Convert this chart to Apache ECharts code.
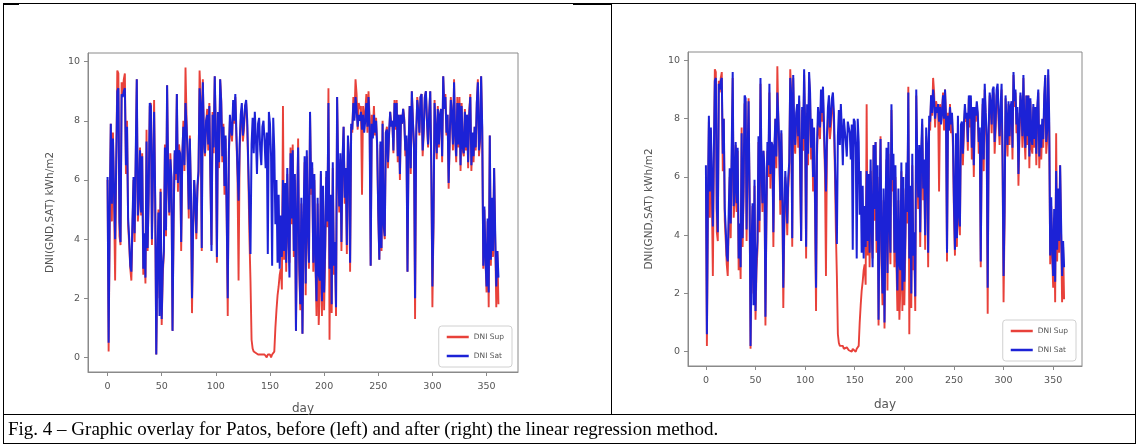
<!DOCTYPE html>
<html>
<head>
<meta charset="utf-8">
<title>Patos DNI overlay</title>
<script src="https://cdn.jsdelivr.net/npm/echarts@6.0.0/dist/echarts.min.js"></script>
<style>
  html, body { margin: 0; padding: 0; background: #fff; }
  #wrap { position: relative; width: 1139px; height: 448px; overflow: hidden; }
  #chart { position: absolute; left: 0; top: 0; width: 1139px; height: 448px; }
  .ln { position: absolute; background: #000; }
  #caption {
    position: absolute; left: 8px; top: 418px; line-height: 22px;
    font-family: "Liberation Serif", "Times New Roman", serif; font-size: 19px;
    color: #000; white-space: nowrap;
  }
</style>
</head>
<body>
<div id="wrap">
  <!-- table borders -->
  <div class="ln" style="left:3px;top:3px;width:1133px;height:1px"></div>
  <div class="ln" style="left:3px;top:3px;width:16px;height:2px"></div>
  <div class="ln" style="left:573px;top:3px;width:38px;height:2px"></div>
  <div class="ln" style="left:3px;top:3px;width:1px;height:441px"></div>
  <div class="ln" style="left:1135px;top:3px;width:1px;height:441px"></div>
  <div class="ln" style="left:611px;top:3px;width:1px;height:411px"></div>
  <div class="ln" style="left:3px;top:414px;width:1133px;height:1px"></div>
  <div class="ln" style="left:3px;top:443px;width:1133px;height:1px"></div>
  <div id="chart"></div>
  <div id="caption">Fig. 4 – Graphic overlay for Patos, before (left) and after (right) the linear regression method.</div>
</div>
<script>
// daily DNI, kWh/m2 (day 0 .. 361)
const dniSup = [
  6.0, 0.2, 4.5, 7.9, 4.6, 7.6, 5.3, 2.6, 6.3, 9.7,
  9.6, 4.1, 3.8, 9.3, 8.9, 9.4, 9.6, 6.2, 8.0, 4.5,
  3.8, 3.0, 2.6, 4.3, 6.0, 3.9, 6.5, 9.4, 4.6, 5.2,
  7.1, 4.8, 6.9, 2.8, 4.0, 2.5, 7.7, 3.6, 5.4, 8.5,
  8.6, 3.8, 6.2, 8.7, 5.2, 0.1, 3.2, 5.0, 2.0, 5.7,
  1.1, 2.8, 3.5, 7.2, 4.1, 9.2, 6.0, 4.8, 6.9, 5.9,
  0.9, 4.5, 6.9, 6.0, 8.9, 5.6, 7.2, 6.8, 3.6, 6.6,
  8.0, 6.3, 9.8, 8.0, 6.6, 4.7, 7.5, 5.4, 1.5, 4.2,
  6.0, 5.1, 4.0, 5.6, 6.2, 9.7, 8.8, 3.6, 9.4, 7.3,
  6.8, 7.9, 8.4, 7.0, 8.6, 5.9, 3.8, 8.3, 6.9, 9.5,
  7.5, 3.2, 8.2, 6.4, 9.4, 8.7, 6.6, 7.9, 5.5, 7.4,
  4.8, 1.4, 6.7, 8.0, 7.6, 7.3, 8.6, 7.9, 8.8, 7.4,
  6.1, 2.6, 7.0, 8.0, 8.4, 7.3, 7.7, 8.5, 8.6, 7.8,
  6.2, 4.1, 2.6, 0.6, 0.3, 0.2, 0.2, 0.15, 0.2, 0.1,
  0.15, 0.1, 0.15, 0.1, 0.05, 0.1, 0.1, 0.0, 0.1, 0.05,
  0.1, 0.0, 0.1, 0.05, 0.2, 1.0, 1.6, 2.1, 2.4, 2.8,
  3.0, 2.3, 8.5, 3.3, 5.8, 2.9, 6.2, 4.0, 3.2, 7.1,
  4.5, 7.2, 3.4, 6.0, 0.9, 4.6, 7.4, 3.0, 1.6, 5.2,
  0.8, 4.4, 6.6, 2.1, 6.8, 4.1, 3.0, 8.3, 5.5, 6.4,
  2.9, 6.0, 3.1, 1.4, 5.2, 1.1, 2.2, 6.2, 1.4, 5.6,
  1.6, 3.5, 6.1, 4.4, 9.1, 0.6, 5.3, 1.5, 6.4, 2.8,
  3.6, 1.4, 8.8, 6.2, 4.9, 6.7, 3.6, 6.5, 7.8, 5.2,
  6.2, 3.5, 7.4, 6.6, 2.9, 7.8, 7.6, 8.8, 8.1, 9.4,
  8.9, 7.7, 8.6, 8.4, 8.5, 5.5, 8.5, 7.9, 8.3, 8.9,
  7.6, 9.0, 8.1, 3.1, 8.2, 7.6, 8.5, 7.5, 8.1, 7.0,
  4.8, 3.3, 7.2, 3.6, 8.0, 4.4, 4.0, 7.6, 7.8, 6.4,
  7.5, 8.3, 7.9, 8.0, 6.9, 8.7, 7.7, 8.7, 6.6, 8.2,
  6.0, 8.2, 7.9, 8.4, 8.1, 6.8, 7.4, 2.9, 7.1, 8.5,
  6.2, 9.0, 8.0, 7.0, 1.3, 7.4, 8.8, 8.4, 7.5, 8.8,
  8.9, 6.8, 7.6, 8.8, 9.0, 7.9, 7.1, 8.2, 9.0, 6.3,
  1.7, 4.4, 8.7, 7.6, 6.7, 8.5, 7.1, 8.2, 8.4, 6.6,
  9.5, 8.4, 8.9, 7.5, 8.2, 5.7, 7.4, 8.8, 8.2, 7.0,
  9.4, 7.4, 6.6, 8.8, 7.1, 8.8, 6.3, 8.6, 7.0, 6.8,
  8.4, 7.0, 8.2, 6.4, 8.3, 8.9, 6.3, 7.5, 6.6, 7.8,
  7.0, 8.6, 9.4, 6.8, 7.3, 9.5, 7.7, 3.0, 5.0, 3.3,
  2.2, 4.6, 1.7, 7.5, 3.1, 5.3, 3.4, 6.4, 4.0, 1.7,
  3.6, 1.8
];

// satellite estimate, before regression (left panel)
const dniSat = [
  6.1, 0.5, 5.0, 7.9, 5.2, 7.4, 5.6, 4.0, 6.6, 9.0,
  9.1, 4.6, 3.9, 8.9, 8.8, 9.0, 9.1, 6.5, 7.8, 4.7,
  4.0, 3.1, 2.9, 4.6, 6.1, 4.2, 6.8, 9.4, 4.8, 5.4,
  7.0, 4.9, 6.8, 3.0, 4.2, 2.7, 7.3, 3.7, 5.6, 8.6,
  8.5, 4.0, 6.4, 8.3, 5.4, 0.1, 3.4, 4.9, 1.4, 5.6,
  1.3, 3.0, 3.6, 7.1, 4.3, 9.2, 6.2, 4.9, 6.7, 6.1,
  0.9, 4.7, 7.0, 6.2, 8.9, 5.9, 7.0, 6.9, 3.9, 6.8,
  7.8, 6.5, 8.6, 7.8, 6.8, 5.0, 7.4, 5.6, 2.0, 4.4,
  6.0, 5.3, 4.2, 5.8, 6.3, 9.1, 8.6, 3.7, 9.3, 7.5,
  6.9, 8.0, 8.2, 7.2, 8.5, 6.1, 3.6, 8.2, 7.1, 9.5,
  7.6, 3.4, 8.3, 6.6, 9.4, 8.6, 6.8, 7.8, 5.8, 7.5,
  5.0, 2.0, 6.9, 8.2, 7.7, 7.5, 8.7, 8.0, 8.9, 7.6,
  6.4, 5.3, 7.2, 8.2, 8.6, 7.5, 7.9, 8.5, 8.7, 8.0,
  6.5, 5.0, 3.5, 7.2, 8.1, 6.9, 8.3, 7.4, 6.2, 7.9,
  8.1, 7.0, 6.5, 7.8, 8.0, 7.3, 6.4, 7.6, 3.5, 8.3,
  7.9, 6.8, 3.1, 8.1, 7.0, 4.5, 6.0, 3.2, 5.5, 3.0,
  4.8, 3.4, 6.0, 3.6, 5.9, 3.2, 6.4, 4.3, 2.7, 6.9,
  4.7, 7.0, 3.6, 6.2, 0.9, 4.8, 7.1, 3.3, 1.8, 5.4,
  0.8, 4.6, 6.8, 2.5, 7.0, 4.3, 3.2, 8.3, 5.7, 6.6,
  3.2, 6.2, 3.4, 1.9, 5.4, 2.8, 2.6, 6.3, 1.9, 5.8,
  2.2, 3.8, 6.3, 4.6, 8.6, 3.0, 5.5, 1.8, 6.6, 3.1,
  3.9, 1.7, 8.8, 6.4, 5.1, 6.9, 3.9, 6.7, 7.8, 5.4,
  6.4, 3.8, 7.5, 6.8, 3.2, 7.9, 7.7, 8.6, 8.0, 8.8,
  8.4, 7.8, 8.2, 8.0, 8.3, 7.7, 8.2, 7.6, 8.0, 8.6,
  7.8, 8.8, 7.8, 3.1, 7.9, 7.4, 8.2, 7.6, 8.0, 7.2,
  4.9, 3.3, 7.3, 3.7, 7.9, 4.5, 4.1, 7.6, 7.7, 6.6,
  7.6, 8.3, 7.8, 8.0, 7.0, 8.6, 7.8, 8.6, 6.8, 8.2,
  6.2, 8.2, 7.9, 8.4, 8.0, 7.0, 7.5, 2.9, 7.2, 8.5,
  6.4, 9.0, 8.0, 7.2, 2.0, 7.5, 8.7, 8.3, 7.6, 8.8,
  8.9, 7.0, 7.7, 8.8, 9.0, 8.0, 7.2, 8.2, 9.0, 6.5,
  2.4, 4.6, 8.6, 7.7, 6.9, 8.4, 7.2, 8.2, 8.4, 6.8,
  9.5, 8.4, 8.8, 7.6, 8.2, 5.9, 7.5, 8.7, 8.2, 7.2,
  9.3, 7.5, 6.8, 8.6, 7.2, 8.6, 6.5, 8.5, 7.1, 6.9,
  8.3, 7.1, 8.2, 6.6, 8.2, 8.8, 6.5, 7.6, 6.8, 7.8,
  7.1, 8.6, 9.3, 7.0, 7.4, 9.5, 7.8, 3.1, 5.1, 3.4,
  2.4, 4.7, 2.2, 7.5, 3.3, 5.4, 3.6, 6.4, 4.2, 2.4,
  3.6, 2.7
];

// satellite estimate, after linear regression (right panel)
const dniSatReg = [
  6.4, 0.6, 5.3, 8.1, 5.5, 7.7, 5.9, 4.3, 6.8, 9.3,
  9.4, 4.9, 4.1, 9.2, 9.0, 9.3, 9.4, 6.8, 8.0, 4.9,
  4.2, 3.3, 3.1, 4.8, 6.3, 4.4, 7.0, 9.6, 5.0, 5.6,
  7.2, 5.1, 7.0, 3.2, 4.4, 2.9, 7.5, 3.9, 5.8, 8.8,
  8.7, 4.2, 6.6, 8.6, 5.6, 0.2, 3.6, 5.1, 1.6, 5.9,
  1.4, 3.2, 3.8, 7.4, 4.5, 9.4, 6.4, 5.1, 6.9, 6.3,
  1.2, 4.9, 7.2, 6.4, 9.2, 6.1, 7.2, 7.1, 4.1, 7.0,
  8.0, 6.7, 8.9, 8.0, 7.0, 5.2, 7.6, 5.8, 2.2, 4.6,
  6.2, 5.5, 4.4, 6.0, 6.5, 9.4, 8.8, 3.9, 9.5, 7.7,
  7.1, 8.2, 8.5, 7.4, 8.8, 6.3, 3.8, 8.4, 7.3, 9.7,
  7.8, 3.6, 8.5, 6.8, 9.6, 8.9, 7.0, 8.0, 6.0, 7.7,
  5.2, 2.2, 7.1, 8.4, 7.9, 7.7, 9.0, 8.2, 9.1, 7.8,
  6.6, 5.5, 7.4, 8.4, 8.8, 7.7, 8.1, 8.7, 8.9, 8.2,
  6.7, 5.2, 3.7, 7.4, 8.3, 7.1, 8.5, 7.6, 6.4, 8.0,
  8.0, 7.2, 6.7, 7.9, 7.9, 7.5, 6.6, 7.8, 3.5, 8.0,
  7.9, 7.0, 3.2, 8.0, 7.2, 4.7, 6.2, 3.4, 5.7, 3.2,
  5.0, 3.6, 6.2, 3.8, 6.1, 3.4, 6.6, 4.5, 2.9, 7.1,
  4.9, 7.2, 3.8, 6.4, 1.1, 5.0, 7.3, 3.5, 2.0, 5.6,
  1.0, 4.8, 7.0, 2.7, 7.2, 4.5, 3.4, 8.5, 5.9, 6.8,
  3.4, 6.4, 3.6, 2.1, 5.6, 3.0, 2.8, 6.5, 2.1, 6.0,
  2.4, 4.0, 6.5, 4.8, 8.9, 3.2, 5.7, 2.0, 6.8, 3.3,
  4.1, 1.9, 9.0, 6.6, 5.3, 7.1, 4.1, 6.9, 8.0, 5.6,
  6.6, 4.0, 7.7, 7.0, 3.4, 8.1, 7.9, 8.8, 8.2, 9.0,
  8.6, 8.0, 8.4, 8.2, 8.5, 7.9, 8.4, 7.8, 8.2, 8.8,
  8.0, 9.0, 8.0, 3.4, 8.1, 7.6, 8.4, 7.8, 8.2, 7.4,
  5.1, 3.5, 7.5, 3.9, 8.1, 4.7, 4.3, 7.8, 7.9, 6.8,
  7.8, 8.5, 8.0, 8.2, 7.2, 8.8, 8.0, 8.8, 7.0, 8.4,
  6.4, 8.4, 8.1, 8.6, 8.2, 7.2, 7.7, 3.1, 7.4, 8.7,
  6.6, 9.2, 8.2, 7.4, 2.2, 7.7, 8.9, 8.5, 7.8, 9.0,
  9.1, 7.2, 7.9, 9.0, 9.2, 8.2, 7.4, 8.4, 9.2, 6.7,
  2.6, 4.8, 8.8, 7.9, 7.1, 8.6, 7.4, 8.4, 8.6, 7.0,
  9.6, 8.6, 9.0, 7.8, 8.4, 6.1, 7.7, 8.9, 8.4, 7.4,
  9.5, 7.7, 7.0, 8.8, 7.4, 8.8, 6.7, 8.7, 7.3, 7.1,
  8.5, 7.3, 8.4, 6.8, 8.4, 9.0, 6.7, 7.8, 7.0, 8.0,
  7.3, 8.8, 9.5, 7.2, 7.6, 9.7, 8.0, 3.3, 5.3, 3.6,
  2.6, 4.9, 2.4, 6.2, 3.5, 5.6, 3.8, 6.4, 4.4, 2.6,
  3.8, 2.9
];

const xTicks = [0, 50, 100, 150, 200, 250, 300, 350];
const yTicks = [0, 2, 4, 6, 8, 10];

const RED = '#e8413a';
const BLUE = '#1c22d6';
const GREY = '#8a8a8a';
const TXT = '#555';

const toPts = arr => arr.map((v, i) => [i, v]);

function xAx(grid, gap) {
  return {
    gridIndex: grid, type: 'value', min: -18.05, max: 379.05,
    name: 'day', nameLocation: 'middle', nameGap: gap,
    nameTextStyle: { color: TXT, fontSize: 12, fontFamily: 'DejaVu Sans' },
    axisLine: { show: true, onZero: false, lineStyle: { color: GREY, width: 1 } },
    axisTick: { show: true, length: 4, lineStyle: { color: GREY }, customValues: xTicks },
    axisLabel: { color: TXT, fontSize: 9.5, margin: 10, fontFamily: 'DejaVu Sans', customValues: xTicks },
    splitLine: { show: false }
  };
}

function yAx(grid, gap) {
  return {
    gridIndex: grid, type: 'value', min: -0.49, max: 10.29,
    name: 'DNI(GND,SAT) kWh/m2', nameLocation: 'middle', nameGap: gap,
    nameTextStyle: { color: TXT, fontSize: 10.5, fontFamily: 'DejaVu Sans' },
    axisLine: { show: true, onZero: false, lineStyle: { color: GREY, width: 1 } },
    axisTick: { show: true, length: 4, lineStyle: { color: GREY }, customValues: yTicks },
    axisLabel: { color: TXT, fontSize: 9.5, margin: 8, fontFamily: 'DejaVu Sans', customValues: yTicks },
    splitLine: { show: false }
  };
}

function line(name, data, grid, color, width) {
  return {
    name: name, type: 'line', xAxisIndex: grid, yAxisIndex: grid,
    data: toPts(data), showSymbol: false, symbol: 'none',
    lineStyle: { color: color, width: width }, itemStyle: { color: color },
    animation: false
  };
}

function legend(right, bottom) {
  return {
    data: ['DNI Sup', 'DNI Sat'], orient: 'vertical', right: right, bottom: bottom,
    icon: 'rect', itemWidth: 22, itemHeight: 2.5, itemGap: 11,
    padding: [7, 8, 7, 8], backgroundColor: '#fff',
    borderColor: '#d0d0d0', borderWidth: 1, borderRadius: 3,
    textStyle: { color: TXT, fontSize: 7.5, fontFamily: 'DejaVu Sans' },
    selectedMode: false
  };
}

const chart = echarts.init(document.getElementById('chart'), null, { renderer: 'canvas' });
chart.setOption({
  animation: false,
  grid: [
    { left: 88, top: 53, width: 430, height: 319, show: true, borderColor: GREY, borderWidth: 1 },
    { left: 688, top: 52, width: 394, height: 314, show: true, borderColor: GREY, borderWidth: 1 }
  ],
  xAxis: [xAx(0, 31), xAx(1, 33)],
  yAxis: [yAx(0, 32), yAx(1, 33)],
  legend: [legend(1139 - 512, 448 - 367), legend(1139 - 1076, 448 - 361)],
  series: [
    line('DNI Sup', dniSup, 0, RED, 1.9),
    line('DNI Sat', dniSat, 0, BLUE, 2.0),
    line('DNI Sup', dniSup, 1, RED, 1.9),
    line('DNI Sat', dniSatReg, 1, BLUE, 2.0)
  ]
});
</script>
</body>
</html>
